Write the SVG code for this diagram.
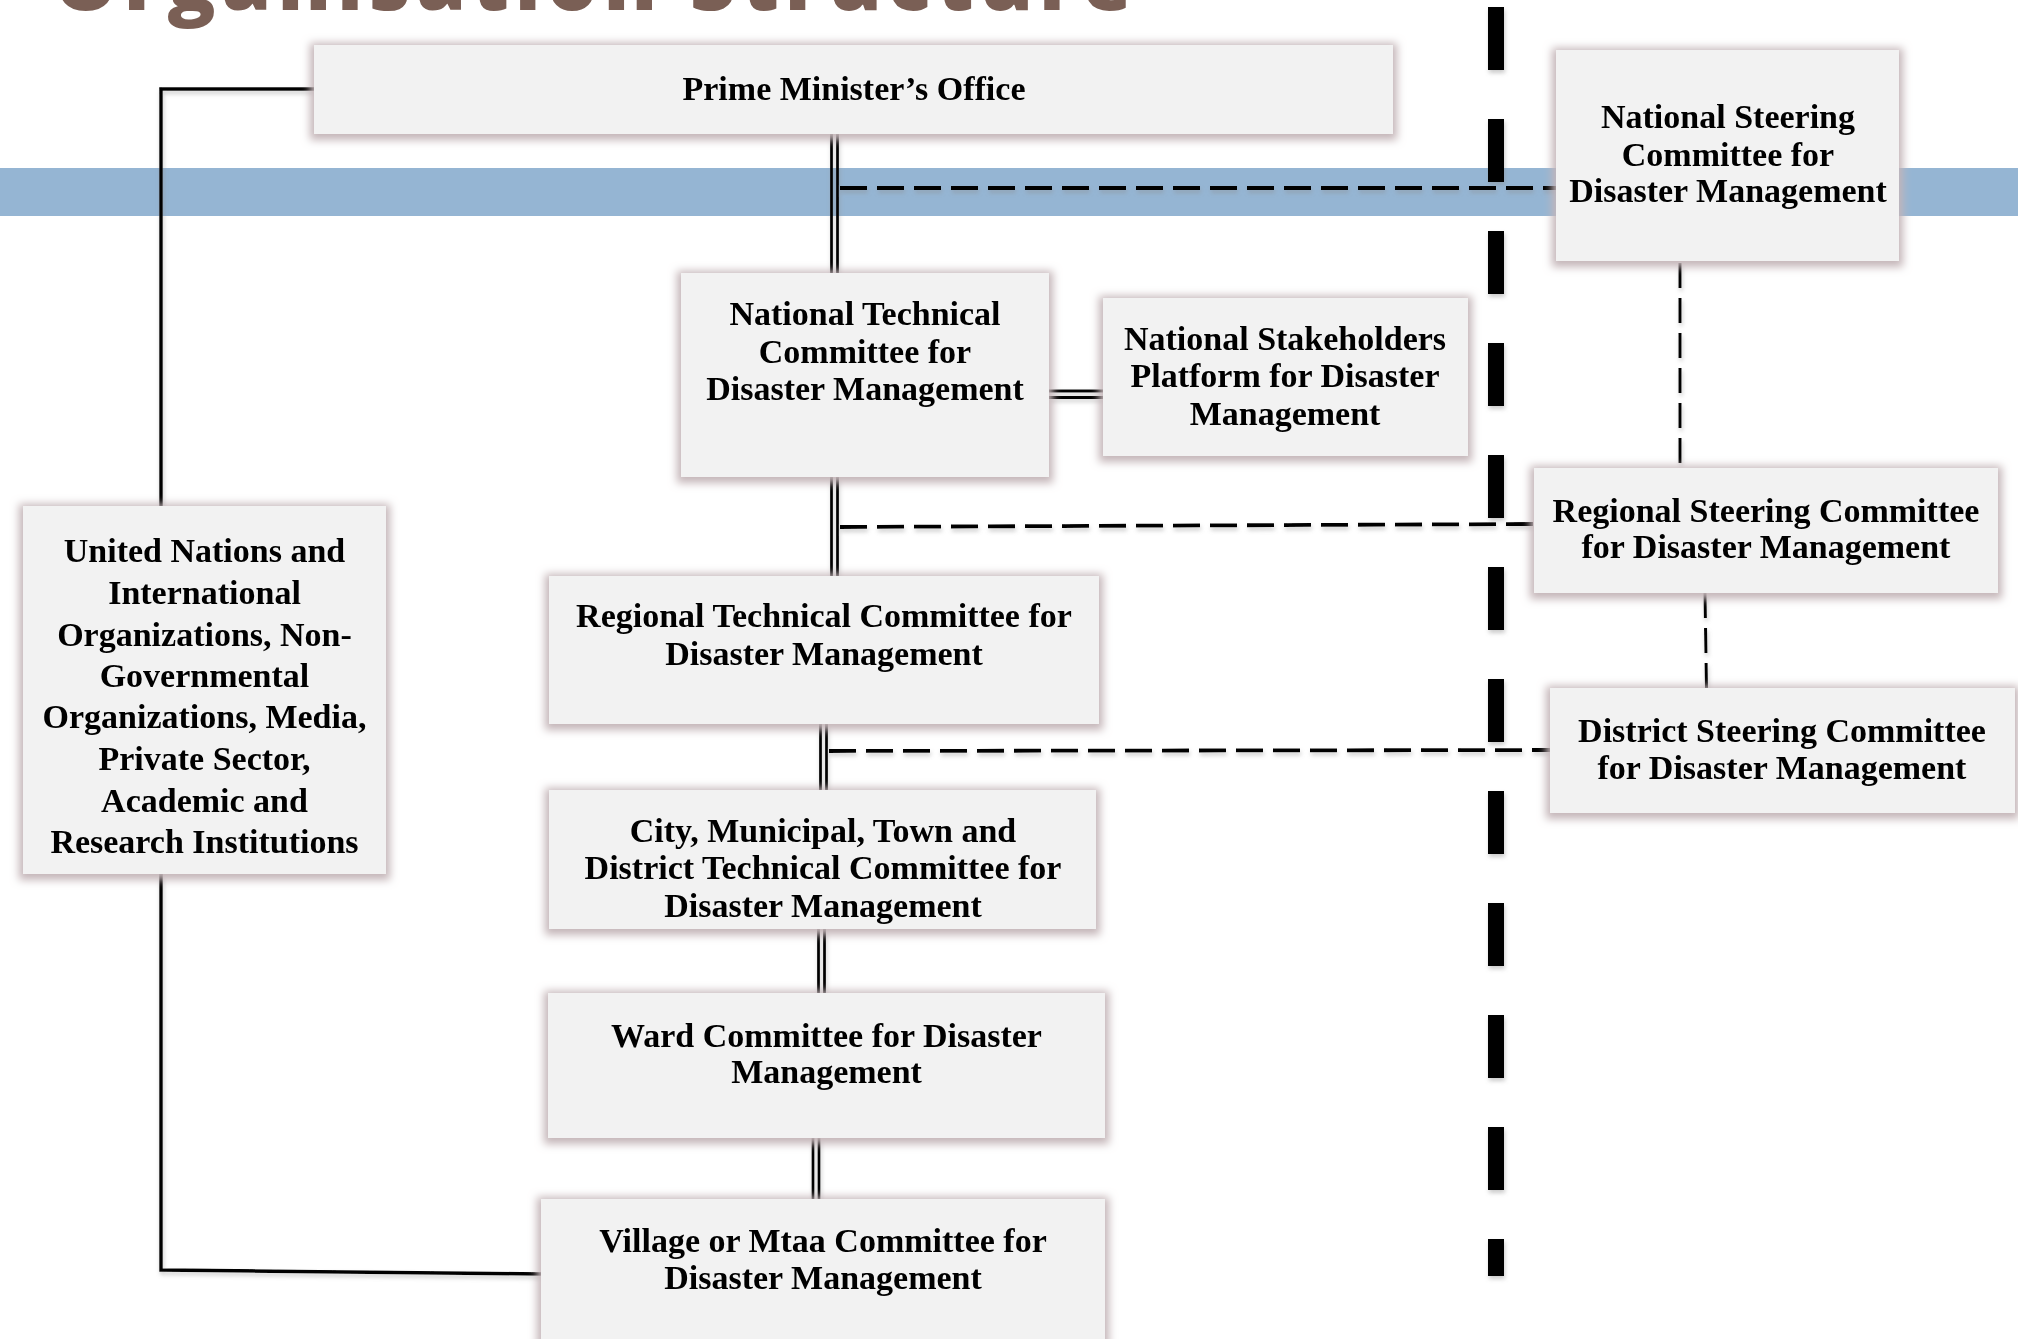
<svg xmlns="http://www.w3.org/2000/svg" width="2018" height="1339" viewBox="0 0 2018 1339">
  <defs>
    <filter id="glow" x="-10%" y="-20%" width="120%" height="140%">
      <feMorphology in="SourceAlpha" operator="dilate" radius="4" result="d"/>
      <feGaussianBlur in="d" stdDeviation="4" result="b"/>
      <feOffset in="b" dx="0" dy="2" result="o"/>
      <feFlood flood-color="#c4b5b8" flood-opacity="1"/>
      <feComposite in2="o" operator="in" result="s"/>
      <feMerge><feMergeNode in="s"/><feMergeNode in="SourceGraphic"/></feMerge>
    </filter>
    <filter id="lshadow" x="-5%" y="-5%" width="110%" height="110%">
      <feGaussianBlur in="SourceAlpha" stdDeviation="2" result="b"/>
      <feOffset in="b" dx="1" dy="3" result="o"/>
      <feFlood flood-color="#8c8c8c" flood-opacity="0.45"/>
      <feComposite in2="o" operator="in" result="s"/>
      <feMerge><feMergeNode in="s"/><feMergeNode in="SourceGraphic"/></feMerge>
    </filter>
  </defs>
  <style>
    .box { fill: #f2f2f2; }
    .lbl { font-family: "Liberation Serif", "Times New Roman", serif; font-weight: bold; font-size: 34px; fill: #000; text-anchor: middle; }
    .solid { stroke: #000; stroke-width: 3.5; fill: none; }
    .dbl { stroke: #000; stroke-width: 2.8; fill: none; }
    .dash { stroke: #000; stroke-width: 3.8; fill: none; stroke-dasharray: 27 10; }
    .tdash { stroke: #000; stroke-width: 3; fill: none; stroke-dasharray: 25 10; }
    .sep { stroke: #000; stroke-width: 16; fill: none; stroke-dasharray: 63 49; }
  </style>
  <rect width="2018" height="1339" fill="#ffffff"/>
  <text x="54" y="10" font-family="'Open Sans', 'DejaVu Sans', sans-serif" font-weight="800" font-size="80" fill="#7a5f55" textLength="1078" lengthAdjust="spacing">Organisation Structure</text>
  <rect id="band" x="0" y="168" width="2018" height="48" fill="#95b5d3"/>

  <g id="connectors" filter="url(#lshadow)">
    <polyline class="solid" points="314,89 161,89 161,506"/>
    <polyline class="solid" points="161,874 161,1270 541,1274"/>
    <line class="dbl" x1="831.5" y1="134" x2="831.5" y2="273"/>
    <line class="dbl" x1="837.5" y1="134" x2="837.5" y2="273"/>
    <line class="dbl" x1="831.5" y1="477" x2="831.5" y2="576"/>
    <line class="dbl" x1="837.5" y1="477" x2="837.5" y2="576"/>
    <line class="dbl" x1="820.5" y1="724" x2="820.5" y2="790"/>
    <line class="dbl" x1="826.5" y1="724" x2="826.5" y2="790"/>
    <line class="dbl" x1="818.5" y1="929" x2="818.5" y2="993"/>
    <line class="dbl" x1="824.5" y1="929" x2="824.5" y2="993"/>
    <line class="dbl" x1="813" y1="1138" x2="813" y2="1199"/>
    <line class="dbl" x1="819" y1="1138" x2="819" y2="1199"/>
    <line class="dbl" x1="1049" y1="391" x2="1103" y2="391"/>
    <line class="dbl" x1="1049" y1="397.5" x2="1103" y2="397.5"/>
    <line class="dash" x1="840" y1="188" x2="1556" y2="188"/>
    <line class="dash" x1="840" y1="527" x2="1534" y2="524"/>
    <line class="dash" x1="829" y1="751" x2="1550" y2="750"/>
    <line class="tdash" x1="1680" y1="263" x2="1680" y2="468"/>
    <line class="tdash" x1="1705" y1="593" x2="1706.5" y2="688"/>
    <line id="separator" class="sep" x1="1496" y1="7" x2="1496" y2="1276"/>
  </g>

  <g id="pm" filter="url(#glow)">
    <rect class="box" x="314" y="45" width="1079" height="89"/>
    <text class="lbl" x="854" y="100">Prime Minister’s Office</text>
  </g>
  <g id="nsc" filter="url(#glow)">
    <rect class="box" x="1556" y="50" width="343" height="211"/>
    <text class="lbl" x="1728" y="128">National Steering</text>
    <text class="lbl" x="1728" y="166">Committee for</text>
    <text class="lbl" x="1728" y="202">Disaster Management</text>
  </g>
  <g id="ntc" filter="url(#glow)">
    <rect class="box" x="681" y="273" width="368" height="204"/>
    <text class="lbl" x="865" y="325">National Technical</text>
    <text class="lbl" x="865" y="363">Committee for</text>
    <text class="lbl" x="865" y="400">Disaster Management</text>
  </g>
  <g id="nsp" filter="url(#glow)">
    <rect class="box" x="1103" y="298" width="365" height="158"/>
    <text class="lbl" x="1285" y="350">National Stakeholders</text>
    <text class="lbl" x="1285" y="387">Platform for Disaster</text>
    <text class="lbl" x="1285" y="425">Management</text>
  </g>
  <g id="rsc" filter="url(#glow)">
    <rect class="box" x="1534" y="468" width="464" height="125"/>
    <text class="lbl" x="1766" y="522">Regional Steering Committee</text>
    <text class="lbl" x="1766" y="558">for Disaster Management</text>
  </g>
  <g id="dsc" filter="url(#glow)">
    <rect class="box" x="1550" y="688" width="465" height="125"/>
    <text class="lbl" x="1782" y="742">District Steering Committee</text>
    <text class="lbl" x="1782" y="779">for Disaster Management</text>
  </g>
  <g id="un" filter="url(#glow)">
    <rect class="box" x="23" y="506" width="363" height="368"/>
    <text class="lbl" x="204.5" y="562">United Nations and</text>
    <text class="lbl" x="204.5" y="604">International</text>
    <text class="lbl" x="204.5" y="646">Organizations, Non-</text>
    <text class="lbl" x="204.5" y="687">Governmental</text>
    <text class="lbl" x="204.5" y="728">Organizations, Media,</text>
    <text class="lbl" x="204.5" y="770">Private Sector,</text>
    <text class="lbl" x="204.5" y="812">Academic and</text>
    <text class="lbl" x="204.5" y="853">Research Institutions</text>
  </g>
  <g id="rtc" filter="url(#glow)">
    <rect class="box" x="549" y="576" width="550" height="148"/>
    <text class="lbl" x="824" y="627">Regional Technical Committee for</text>
    <text class="lbl" x="824" y="665">Disaster Management</text>
  </g>
  <g id="city" filter="url(#glow)">
    <rect class="box" x="549" y="790" width="547" height="139"/>
    <text class="lbl" x="823" y="842">City, Municipal, Town and</text>
    <text class="lbl" x="823" y="879">District Technical Committee for</text>
    <text class="lbl" x="823" y="917">Disaster Management</text>
  </g>
  <g id="ward" filter="url(#glow)">
    <rect class="box" x="548" y="993" width="557" height="145"/>
    <text class="lbl" x="826.5" y="1047">Ward Committee for Disaster</text>
    <text class="lbl" x="826.5" y="1083">Management</text>
  </g>
  <g id="village" filter="url(#glow)">
    <rect class="box" x="541" y="1199" width="564" height="170"/>
    <text class="lbl" x="823" y="1252">Village or Mtaa Committee for</text>
    <text class="lbl" x="823" y="1289">Disaster Management</text>
  </g>
</svg>
